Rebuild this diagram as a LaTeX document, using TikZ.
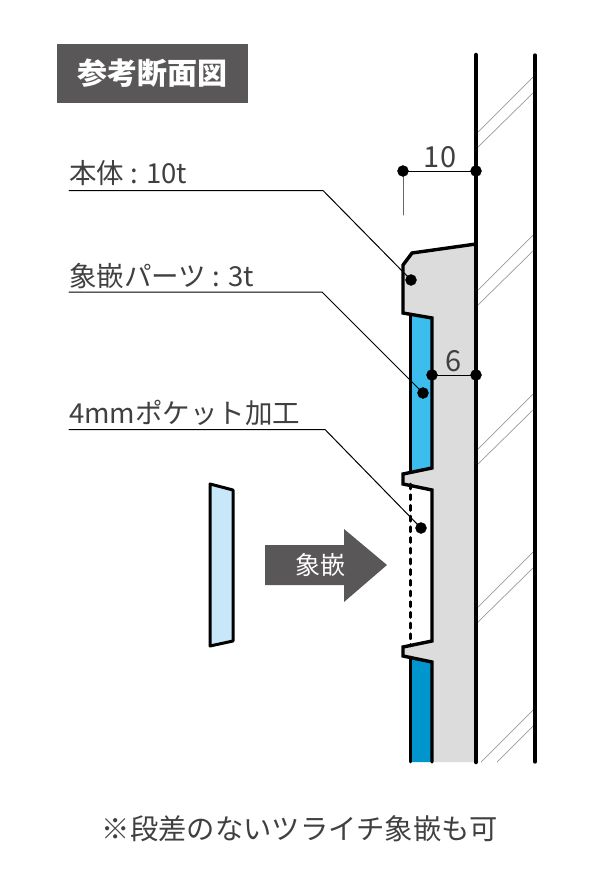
\documentclass[tikz,border=0pt]{standalone}
\usepackage{fontspec}
\usepackage{tkz-euclide}
\setmainfont{Noto Sans CJK JP}
\definecolor{darkbox}{HTML}{595757}
\definecolor{bodygray}{HTML}{DCDCDC}
\definecolor{inlayblue}{HTML}{3BBDEE}
\definecolor{inlaydeep}{HTML}{0095CC}
\definecolor{partblue}{HTML}{C8E8FA}
\tikzset{
  label/.style={anchor=base west,inner sep=0pt,text=black!75,font=\fontsize{27.5}{27.5}\selectfont},
  dim/.style={anchor=base,inner sep=0pt,text=black!75,font=\fontsize{29}{29}\selectfont},
  hatch/.style={color=black!40,line width=0.7},
  leader/.style={color=black,line width=1},
  outline/.style={color=black,line width=3.4,line join=miter}
}

\begin{document}
\begin{tikzpicture}[x=1pt,y=-1pt]
        \useasboundingbox (0,0) rectangle (600,880);

        \tkzDefPoint(476,55){WA}
        \tkzDefPoint(476,762){WB}
        \tkzDefPoint(535,55){WC}
        \tkzDefPoint(535,762){WD}

        \foreach \y in {132,290,449,607}{
            \draw[hatch] (478,\y) -- (533,\y-55);
            \draw[hatch] (478,\y+15) -- (533,\y-39);
        }
        \draw[hatch] (481,762) -- (533,710);
        \draw[hatch] (497,762) -- (533,726);

        \tkzDefPoint(476,244){A}
        \tkzDefPoint(412,253){B}
        \tkzDefPoint(403,265){C}
        \tkzDefPoint(403,313){D}
        \tkzDefPoint(432,318){E}
        \tkzDefPoint(432,468){F}
        \tkzDefPoint(403,474){G}
        \tkzDefPoint(403,484){H}
        \tkzDefPoint(432,490){I}
        \tkzDefPoint(432,641){J}
        \tkzDefPoint(403,647){K}
        \tkzDefPoint(403,656){L}
        \tkzDefPoint(432,662){M}
        \tkzDefPoint(432,762){N}
        \tkzDefPoint(476,762){O}

        \tkzDefPoint(410.5,315){UA}
        \tkzDefPoint(410.5,472){UB}
        \tkzDefPoint(410.5,657){LA}
        \tkzDefPoint(410.5,762){LB}
        \tkzDefPoint(410.5,484){DA}
        \tkzDefPoint(410.5,646){DB}

        \tkzFillPolygon[color=bodygray](A,B,C,D,E,F,G,H,I,J,K,L,M,N,O)
        \tkzFillPolygon[color=inlayblue](UA,E,F,UB)
        \tkzFillPolygon[color=inlaydeep](LA,M,N,LB)
        \tkzDrawSegment[color=black,line width=2.8](UA,UB)
        \tkzDrawSegment[color=black,line width=2.8](LA,LB)
        \tkzDrawSegment[color=black,line width=2.8,dash pattern=on 5pt off 5.7pt](DA,DB)
        \tkzDrawPolySeg[outline](A,B,C,D,E,F,G,H,I,J,K,L,M,N)
        \tkzDrawSegment[color=black,line width=4.5](WA,WB)
        \tkzDrawSegment[color=black,line width=3.2](WC,WD)

        \tkzDefPoint(403,171){P}
        \tkzDefPoint(476,171){Q}
        \tkzDefPoint(403,215){R}
        \tkzDefPoint(432,375){S}
        \tkzDefPoint(476,375){T}
        \tkzDrawSegment[leader](P,Q)
        \tkzDrawSegment[color=black!60,line width=1](P,R)
        \tkzDrawSegment[leader](S,T)
        \node[dim] (ten) at (440,167) {10};
        \node[dim] (six) at (454,371) {6};

        \tkzDefPoint(69,190.5){X}
        \tkzDefPoint(323,190.5){Xa}
        \tkzDefPoint(411,280){Xb}
        \tkzDefPoint(69,292){Y}
        \tkzDefPoint(322,292){Ya}
        \tkzDefPoint(423,393){Yb}
        \tkzDefPoint(69,429.5){Z}
        \tkzDefPoint(325,429.5){Za}
        \tkzDefPoint(421,528){Zb}
        \tkzDrawPolySeg[leader](X,Xa,Xb)
        \tkzDrawPolySeg[leader](Y,Ya,Yb)
        \tkzDrawPolySeg[leader](Z,Za,Zb)
        \tkzDrawPoints[shape=circle,size=11,color=black,fill=black](P,Q,S,T,Xb,Yb,Zb)

        \node[label] (body) at (69,183) {本体 : 10t};
        \node[label] (inlay) at (69,286) {象嵌パーツ : 3t};
        \node[label] (pocket) at (69,423) {4mmポケット加工};

        \node[fill=darkbox,minimum width=191pt,minimum height=59pt,inner sep=0pt,text=white,font=\fontsize{30}{30}\selectfont\bfseries] (title) at (152.5,73.5) {参考断面図};

        \tkzDefPoint(210,484){Pa}
        \tkzDefPoint(233,490){Pb}
        \tkzDefPoint(233,641){Pc}
        \tkzDefPoint(210,646){Pd}
        \tkzFillPolygon[color=partblue](Pa,Pb,Pc,Pd)
        \tkzDrawPolygon[color=black,line width=3](Pa,Pb,Pc,Pd)

        \fill[darkbox] (265,545) -- (344,545) -- (344,529) -- (387,565) -- (344,602) -- (344,585) -- (265,585) -- cycle;
        \node[inner sep=0pt,text=white,font=\fontsize{25}{25}\selectfont] (inlayarrow) at (320,565) {象嵌};

        \node[inner sep=0pt,text=black!75,font=\fontsize{28.3}{28.3}\selectfont] (note) at (300,829) {※段差のないツライチ象嵌も可};
    \end{tikzpicture}
\end{document}
